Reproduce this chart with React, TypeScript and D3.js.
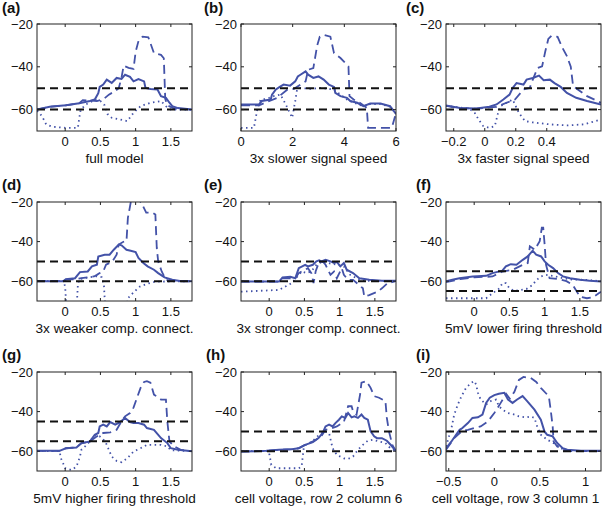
import React from 'react';
import * as d3 from 'd3';

type Pt = [number, number];

const letters = ['(a)', '(b)', '(c)', '(d)', '(e)', '(f)', '(g)', '(h)', '(i)'];
const titles = [
  'full model',
  '3x slower signal speed',
  '3x faster signal speed',
  '3x weaker comp. connect.',
  '3x stronger comp. connect.',
  '5mV lower firing threshold',
  '5mV higher firing threshold',
  'cell voltage, row 2 column 6',
  'cell voltage, row 3 column 1',
];
const xDomains: Pt[] = [
  [-0.4, 1.8], [0, 6], [-0.25, 0.75],
  [-0.4, 1.8], [-0.4, 1.8], [-0.4, 1.8],
  [-0.4, 1.8], [-0.4, 1.8], [-0.53, 1.17],
];
const xTicks: number[][] = [
  [0, 0.5, 1, 1.5], [0, 2, 4, 6], [-0.2, 0, 0.2, 0.4],
  [0, 0.5, 1, 1.5], [0, 0.5, 1, 1.5], [0, 0.5, 1, 1.5],
  [0, 0.5, 1, 1.5], [0, 0.5, 1, 1.5], [-0.5, 0, 0.5, 1],
];
const yDomain: Pt = [-70, -20];
const yTicks = [-20, -40, -60];
const thresholds: Pt[] = [
  [-50, -60], [-50, -60], [-50, -60],
  [-50, -60], [-50, -60], [-55, -65],
  [-45, -55], [-50, -60], [-50, -60],
];

// (a) full model
const aSolid: Pt[] = [[-0.4,-60],[-0.22,-58.7],[0.01,-58],[0.2,-57],[0.35,-56],[0.42,-55.3],[0.47,-52.3],[0.49,-49.4],[0.54,-48.3],[0.59,-46],[0.66,-47.5],[0.73,-45.2],[0.8,-45.7],[0.85,-43.7],[0.92,-44.7],[0.97,-46.8],[1.04,-45.7],[1.12,-46.8],[1.14,-49.9],[1.21,-50.4],[1.31,-50.6],[1.36,-53.7],[1.43,-54.5],[1.48,-56.8],[1.52,-58.4],[1.6,-59.3],[1.8,-60]];
const aDashed: Pt[] = [[-0.4,-60],[-0.22,-58.7],[0.01,-58],[0.2,-57],[0.25,-55.6],[0.45,-56],[0.55,-55],[0.62,-53],[0.7,-51.5],[0.76,-50],[0.8,-45],[0.83,-39.5],[0.9,-40.5],[0.97,-41],[1.0,-33],[1.04,-28],[1.1,-25.9],[1.18,-26.2],[1.26,-33.6],[1.36,-34.4],[1.4,-36],[1.42,-55],[1.45,-58],[1.55,-59.5],[1.8,-60]];
const aDotted: Pt[] = [[-0.4,-60.5],[-0.33,-63],[-0.27,-66.9],[-0.18,-68],[0,-68.5],[0.18,-68.5],[0.2,-64],[0.22,-60],[0.3,-57.5],[0.42,-55.5],[0.5,-56],[0.56,-58],[0.6,-62],[0.66,-63.8],[0.78,-64.6],[0.88,-65.4],[0.97,-61.5],[1.07,-58.4],[1.21,-56.8],[1.36,-56],[1.43,-58.4],[1.5,-60],[1.8,-60]];

// (b) 3x slower
const bSolid: Pt[] = [[0,-57.6],[0.7,-57.6],[0.8,-56],[1.15,-55.3],[1.2,-53],[1.35,-50.6],[1.5,-49.4],[1.65,-48.3],[1.9,-48.8],[2.1,-46.8],[2.2,-44.5],[2.3,-43.7],[2.5,-42.1],[2.6,-43.7],[2.8,-45.2],[3.0,-44.5],[3.2,-46],[3.4,-48.3],[3.6,-49.4],[3.65,-52.2],[3.85,-53.7],[4.1,-54.5],[4.23,-56],[4.5,-56.8],[4.74,-58.4],[5.0,-57.2],[5.4,-57.2],[5.77,-58.4],[6,-62]];
const bDashed: Pt[] = [[0,-58],[0.7,-58],[1.0,-56.5],[1.4,-54.5],[1.8,-50.6],[2.05,-50.3],[2.3,-48.3],[2.5,-46.8],[2.6,-41.4],[2.8,-40.6],[2.95,-30],[3.05,-25.9],[3.2,-25.1],[3.46,-25.9],[3.6,-33.6],[3.85,-35.9],[4.16,-39.8],[4.2,-53.7],[4.36,-55.3],[4.6,-56.8],[4.87,-59.2],[4.92,-68.5],[5.26,-68.5],[5.84,-68.5],[6,-61.5]];
const bDotted: Pt[] = [[0,-68.5],[0.5,-68.5],[0.63,-60],[0.76,-55.3],[1.0,-55],[1.27,-53.7],[1.53,-53],[1.75,-58],[1.98,-63.8],[2.1,-56],[2.17,-50.6],[2.3,-49.9],[2.7,-50.3],[3.07,-49.9],[3.6,-50.6],[3.85,-53],[4.1,-55.3],[4.36,-56.8],[4.74,-58.4],[5.0,-57.4],[5.4,-57.4],[5.77,-58.6],[6,-62]];

// (c) 3x faster
const cSolid: Pt[] = [[-0.25,-58.1],[-0.16,-59.2],[-0.054,-59.5],[0.03,-58.7],[0.076,-57.6],[0.12,-55.3],[0.16,-53],[0.18,-49.9],[0.205,-47.6],[0.25,-48.3],[0.27,-46],[0.31,-45.2],[0.35,-44.1],[0.38,-46.3],[0.42,-46],[0.45,-47.6],[0.49,-49.4],[0.53,-52.2],[0.59,-54.5],[0.66,-56],[0.75,-57.6]];
const cDashed: Pt[] = [[-0.25,-58.3],[-0.16,-59.3],[-0.054,-59.6],[0.03,-59],[0.076,-58.7],[0.14,-56.8],[0.195,-55.3],[0.25,-50.6],[0.29,-49.9],[0.31,-46],[0.34,-40.6],[0.37,-39.8],[0.39,-33],[0.41,-27],[0.43,-25.5],[0.47,-26],[0.5,-31],[0.53,-35],[0.555,-40],[0.57,-49],[0.6,-50.6],[0.66,-53.7],[0.75,-56.8]];
const cDotted: Pt[] = [[-0.25,-58.3],[-0.1,-59.5],[-0.065,-61.5],[-0.04,-64.6],[-0.01,-67.7],[0.03,-68.5],[0.065,-67.7],[0.086,-61.5],[0.1,-58.4],[0.14,-56.8],[0.18,-55.3],[0.22,-61.5],[0.26,-65.4],[0.31,-66],[0.42,-66.9],[0.53,-67.4],[0.64,-66.9],[0.75,-64.6]];

// (d) 3x weaker comp. connect.
const dSolid: Pt[] = [[-0.4,-60],[-0.03,-60],[0.01,-59],[0.14,-58.5],[0.21,-55.4],[0.32,-55.1],[0.38,-52.5],[0.45,-51.7],[0.47,-47.5],[0.56,-46.6],[0.63,-46.6],[0.69,-44.1],[0.76,-41.5],[0.8,-41.9],[0.87,-44.1],[0.93,-44.6],[1.0,-45.3],[1.04,-48.3],[1.11,-50.8],[1.17,-52.5],[1.26,-54.2],[1.32,-55.9],[1.41,-58.1],[1.52,-59.3],[1.65,-60],[1.8,-60]];
const dDashed: Pt[] = [[-0.4,-60],[-0.03,-60],[0.01,-59.2],[0.14,-59],[0.23,-58.5],[0.41,-57.6],[0.45,-56.8],[0.49,-55.9],[0.54,-55.1],[0.58,-51.7],[0.67,-50],[0.73,-46.6],[0.76,-41.5],[0.82,-40.2],[0.87,-39.8],[0.89,-28],[0.93,-20.3],[0.97,-18],[1.02,-18],[1.08,-20.3],[1.15,-25.4],[1.24,-25.4],[1.28,-26.3],[1.3,-43.2],[1.32,-50],[1.37,-55.1],[1.43,-59.3],[1.5,-60],[1.8,-60]];
const dDotted: Pt[] = [[-0.4,-60],[-0.02,-60],[0.0,-63],[0.02,-75],[0.16,-75],[0.18,-62],[0.2,-59],[0.3,-58.3],[0.45,-57.5],[0.52,-58],[0.55,-62],[0.57,-75],[0.87,-75],[0.89,-68.6],[0.98,-65.3],[1.06,-62.7],[1.15,-61.5],[1.24,-60.5],[1.32,-60.2],[1.8,-60]];

// (e) 3x stronger comp. connect.
const eSolid: Pt[] = [[-0.4,-60.2],[0.14,-60.2],[0.19,-58.1],[0.3,-57.8],[0.37,-58.5],[0.42,-53.4],[0.51,-51.7],[0.55,-52.5],[0.62,-51.7],[0.67,-50],[0.71,-49.5],[0.74,-50],[0.8,-49.2],[0.87,-50],[0.92,-50.8],[0.96,-50.3],[1.01,-52.5],[1.06,-50.8],[1.1,-54.2],[1.19,-55.9],[1.28,-58.5],[1.42,-59.3],[1.6,-59.8],[1.8,-59.8]];
const eDashed: Pt[] = [[-0.4,-60.2],[0.14,-60.2],[0.19,-58.5],[0.37,-58.5],[0.42,-55.9],[0.46,-55.1],[0.55,-53.4],[0.6,-56],[0.63,-61],[0.66,-55],[0.7,-51],[0.76,-50],[0.8,-51.7],[0.87,-56.8],[0.92,-55.1],[0.96,-58.5],[1.03,-53.4],[1.06,-56.8],[1.12,-59.3],[1.19,-59.3],[1.33,-63.6],[1.35,-67.8],[1.42,-67],[1.54,-65.3],[1.6,-63.6],[1.68,-61],[1.8,-60]];
const eDotted: Pt[] = [[-0.4,-65.3],[0.14,-64.4],[0.23,-62.7],[0.32,-61],[0.42,-56.8],[0.46,-55.1],[0.53,-55.9],[0.6,-55],[0.67,-51.7],[0.76,-50],[0.83,-50.8],[0.96,-51.7],[1.06,-52.5],[1.15,-56.8],[1.24,-58.5],[1.33,-59.8],[1.8,-60]];

// (f) 5mV lower firing threshold
const fSolid: Pt[] = [[-0.4,-60],[-0.31,-59.3],[-0.21,-58.5],[-0.02,-57.6],[0.17,-57.3],[0.26,-55.9],[0.4,-54.7],[0.45,-52.5],[0.52,-51.4],[0.6,-51.7],[0.69,-49.2],[0.76,-47.5],[0.83,-44.6],[0.88,-46.6],[0.95,-47.5],[1.0,-50],[1.05,-51.7],[1.12,-53.4],[1.19,-55.9],[1.26,-57.6],[1.36,-58.5],[1.5,-59.3],[1.64,-59.8],[1.8,-60.2]];
const fDashed: Pt[] = [[-0.4,-60.5],[-0.2,-59],[0.0,-58],[0.17,-57.8],[0.26,-57.6],[0.4,-55.1],[0.55,-54.2],[0.69,-51.7],[0.76,-50.8],[0.79,-42.4],[0.86,-44.1],[0.93,-39.8],[0.96,-33],[0.98,-33],[1.0,-41.5],[1.02,-51.7],[1.07,-58.5],[1.21,-59],[1.31,-60],[1.4,-61.9],[1.5,-67.8],[1.6,-68.6],[1.69,-68],[1.8,-65.3]];
const fDotted: Pt[] = [[-0.4,-68.6],[0.17,-68.6],[0.26,-66.1],[0.36,-63.6],[0.4,-61],[0.45,-61],[0.5,-63.6],[0.57,-64.9],[0.64,-64.5],[0.74,-64],[0.83,-61.9],[0.88,-59.5],[0.95,-57.6],[1.02,-56.8],[1.12,-57.3],[1.26,-58.5],[1.4,-59.2],[1.6,-59.3],[1.8,-60]];

// (g) 5mV higher firing threshold
const gSolid: Pt[] = [[-0.4,-59.8],[-0.08,-59.8],[0.01,-58.5],[0.16,-58.1],[0.23,-55.9],[0.35,-55.1],[0.42,-51.7],[0.47,-50.8],[0.49,-47.5],[0.54,-46.6],[0.59,-47.5],[0.64,-45.3],[0.71,-46.6],[0.78,-45.3],[0.85,-43.2],[0.92,-45.3],[0.97,-45.8],[1.04,-45.8],[1.12,-46.6],[1.16,-48.3],[1.26,-49.2],[1.36,-53.4],[1.45,-55.9],[1.5,-58.5],[1.6,-59.3],[1.8,-60]];
const gDashed: Pt[] = [[-0.4,-59.8],[-0.08,-59.8],[0.01,-58.5],[0.16,-58.1],[0.23,-56],[0.35,-55.1],[0.45,-52.5],[0.54,-50.8],[0.64,-50.5],[0.73,-49.2],[0.8,-44.9],[0.85,-42.4],[0.92,-40.7],[0.97,-38],[1.02,-33],[1.07,-28],[1.12,-25],[1.16,-24.6],[1.21,-25.4],[1.26,-31.4],[1.36,-33.9],[1.43,-34],[1.45,-44.9],[1.48,-55.1],[1.55,-57.6],[1.64,-59.3],[1.8,-60]];
const gDotted: Pt[] = [[-0.4,-59.8],[-0.08,-60],[-0.06,-63.6],[0.0,-68.6],[0.09,-69.5],[0.16,-67.8],[0.21,-62.7],[0.23,-59.3],[0.3,-57],[0.42,-52],[0.49,-52.5],[0.57,-55.1],[0.61,-58.5],[0.66,-62.7],[0.73,-64.9],[0.8,-65.6],[0.88,-63.6],[0.97,-60.2],[1.07,-58.5],[1.16,-56.8],[1.36,-56.8],[1.45,-57.6],[1.5,-59.5],[1.8,-60]];

// (h) cell voltage, row 2 column 6
const hSolid: Pt[] = [[-0.4,-60.2],[-0.04,-59.8],[0.14,-59.3],[0.32,-59],[0.42,-58.5],[0.51,-56.8],[0.62,-55.4],[0.7,-53.4],[0.76,-50.8],[0.8,-47.5],[0.85,-46.6],[0.9,-47.5],[0.94,-45.8],[0.99,-44.1],[1.03,-42.4],[1.08,-43.2],[1.12,-40.7],[1.17,-42.9],[1.21,-42.4],[1.26,-43.2],[1.31,-41.5],[1.35,-43.2],[1.4,-44.1],[1.44,-50],[1.49,-52.5],[1.53,-53.4],[1.6,-53.4],[1.67,-54.7],[1.73,-57],[1.8,-60]];
const hDashed: Pt[] = [[-0.4,-60.2],[-0.04,-59.8],[0.14,-59.3],[0.32,-59],[0.42,-58.5],[0.51,-56.8],[0.64,-54.7],[0.74,-52.5],[0.8,-49.2],[0.87,-48.6],[0.96,-47.5],[1.06,-45.3],[1.12,-37.3],[1.17,-37.3],[1.19,-39.8],[1.24,-41.5],[1.29,-31.4],[1.31,-25.4],[1.38,-24.6],[1.44,-28],[1.49,-32.2],[1.56,-33],[1.65,-34.7],[1.67,-43.2],[1.7,-50],[1.75,-57],[1.8,-60]];
const hDotted: Pt[] = [[-0.4,-60],[-0.01,-60],[0.005,-61.9],[0.03,-66.9],[0.1,-68.6],[0.42,-68.6],[0.46,-67.8],[0.49,-58.5],[0.51,-57],[0.6,-55.4],[0.71,-51.7],[0.78,-50],[0.85,-50.8],[0.9,-58.5],[0.96,-61.9],[1.06,-63.6],[1.12,-63.9],[1.19,-62.7],[1.26,-59.3],[1.33,-56.8],[1.4,-54.7],[1.47,-54.2],[1.56,-55.1],[1.65,-55.9],[1.72,-58.5],[1.8,-60]];

// (i) cell voltage, row 3 column 1
const iSolid: Pt[] = [[-0.53,-58.5],[-0.47,-55.1],[-0.42,-51.7],[-0.38,-49.2],[-0.35,-48.3],[-0.29,-45.8],[-0.24,-43.2],[-0.18,-42.9],[-0.13,-41.5],[-0.09,-35.6],[-0.05,-33],[0,-31.7],[0.05,-31],[0.11,-30.5],[0.15,-33.9],[0.2,-35.6],[0.25,-33.9],[0.31,-32.2],[0.36,-34.7],[0.44,-39],[0.51,-44.1],[0.55,-50],[0.58,-51.7],[0.64,-52.5],[0.69,-55.9],[0.75,-58.5],[0.8,-59.3],[0.95,-59.8],[1.17,-59.8]];
const iDashed: Pt[] = [[-0.53,-59.3],[-0.44,-53.4],[-0.36,-50],[-0.29,-49.2],[-0.22,-48.3],[-0.15,-47.5],[-0.07,-44.9],[0,-40.7],[0.07,-35.6],[0.13,-31],[0.17,-33.5],[0.22,-30],[0.27,-24],[0.32,-22.5],[0.4,-23],[0.46,-25],[0.51,-28],[0.58,-31.4],[0.6,-33],[0.62,-39.8],[0.64,-47.5],[0.65,-55.1],[0.69,-57.6],[0.76,-59.3],[0.85,-60],[1.17,-60]];
const iDotted: Pt[] = [[-0.53,-57.6],[-0.47,-48.3],[-0.44,-41.5],[-0.4,-36.4],[-0.36,-32.2],[-0.31,-28],[-0.25,-25.4],[-0.22,-24.6],[-0.2,-26.3],[-0.18,-30.5],[-0.15,-33.9],[-0.09,-36.4],[-0.04,-34.7],[0.02,-33.9],[0.05,-37.3],[0.09,-39],[0.15,-40.7],[0.22,-41.5],[0.27,-42.4],[0.35,-42.9],[0.4,-42.4],[0.44,-43.2],[0.47,-47.5],[0.51,-51.7],[0.58,-54.2],[0.65,-55.9],[0.73,-58.5],[0.8,-59.8],[1.17,-60]];

const solids = [aSolid, bSolid, cSolid, dSolid, eSolid, fSolid, gSolid, hSolid, iSolid];
const dashes = [aDashed, bDashed, cDashed, dDashed, eDashed, fDashed, gDashed, hDashed, iDashed];
const dots = [aDotted, bDotted, cDotted, dDotted, eDotted, fDotted, gDotted, hDotted, iDotted];

const W = 607;
const H = 506;
const colLeft = [37, 241, 446];
const boxW = 155;
const rowTop = [24, 202, 372];
const rowBottom = [131, 301, 471];
const letterX = [2, 204, 406, 2, 204, 416, 2, 206, 416];
const letterY = [13, 190, 360];
const titleShift = [0, 0, 0, 0, 0, 0, 0, 0, -8];
const BLUE = '#4352a8';
const FONT = '"Liberation Sans", Arial, Helvetica, sans-serif';

const fmt = (v: number) => String(v).replace('-', '\u2212');

function Panel({ idx }: { idx: number }) {
  const r = Math.floor(idx / 3);
  const c = idx % 3;
  const x0 = colLeft[c];
  const x1 = x0 + boxW;
  const y0 = rowTop[r];
  const y1 = rowBottom[r];
  const x = d3.scaleLinear().domain(xDomains[idx]).range([x0, x1]);
  const y = d3.scaleLinear().domain(yDomain).range([y1, y0]);
  const line = d3.line<Pt>().x((d) => x(d[0])).y((d) => y(d[1]));
  const clipId = `clip-${idx}`;
  const tl = 3;
  return (
    <g>
      <defs>
        <clipPath id={clipId}>
          <rect x={x0} y={y0} width={x1 - x0} height={y1 - y0} />
        </clipPath>
      </defs>
      <rect x={x0} y={y0} width={x1 - x0} height={y1 - y0} fill="#fff" />
      <g clipPath={`url(#${clipId})`} fill="none">
        <path d={line(dots[idx]) || ''} stroke={BLUE} strokeWidth={1.8} strokeDasharray="1.5,3.5" />
        <path d={line(dashes[idx]) || ''} stroke={BLUE} strokeWidth={1.8} strokeDasharray="9,5" />
        <path d={line(solids[idx]) || ''} stroke={BLUE} strokeWidth={2} />
        {thresholds[idx].map((t, k) => (
          <line key={k} x1={x0} x2={x1} y1={y(t)} y2={y(t)} stroke="#111" strokeWidth={2} strokeDasharray="8,5" />
        ))}
      </g>
      <rect x={x0} y={y0} width={x1 - x0} height={y1 - y0} fill="none" stroke="#222" strokeWidth={1} />
      {xTicks[idx].map((t) => (
        <g key={`xt${t}`}>
          <line x1={x(t)} x2={x(t)} y1={y1} y2={y1 - tl} stroke="#222" />
          <line x1={x(t)} x2={x(t)} y1={y0} y2={y0 + tl} stroke="#222" />
          <text x={x(t)} y={y1 + 15} textAnchor="middle" fontSize={13} fontFamily={FONT} fill="#111">
            {fmt(t)}
          </text>
        </g>
      ))}
      {yTicks.map((t) => (
        <g key={`yt${t}`}>
          <line x1={x0} x2={x0 + tl} y1={y(t)} y2={y(t)} stroke="#222" />
          <line x1={x1} x2={x1 - tl} y1={y(t)} y2={y(t)} stroke="#222" />
          <text x={x0 - 4} y={y(t)} dy="0.36em" textAnchor="end" fontSize={13} fontFamily={FONT} fill="#111">
            {fmt(t)}
          </text>
        </g>
      ))}
      <text
        x={(x0 + x1) / 2 + titleShift[idx]}
        y={y1 + 32}
        textAnchor="middle"
        fontSize={13.6}
        fontFamily={FONT}
        fill="#111"
      >
        {titles[idx]}
      </text>
      <text x={letterX[idx]} y={letterY[r]} fontSize={15} fontWeight="bold" fontFamily={FONT} fill="#111">
        {letters[idx]}
      </text>
    </g>
  );
}

export default function App() {
  return (
    <svg
      width={W}
      height={H}
      viewBox={`0 0 ${W} ${H}`}
      style={{ position: 'absolute', left: 0, top: 0, background: '#fff' }}
    >
      <rect x={0} y={0} width={W} height={H} fill="#fff" />
      {letters.map((_, i) => (
        <Panel key={i} idx={i} />
      ))}
    </svg>
  );
}
